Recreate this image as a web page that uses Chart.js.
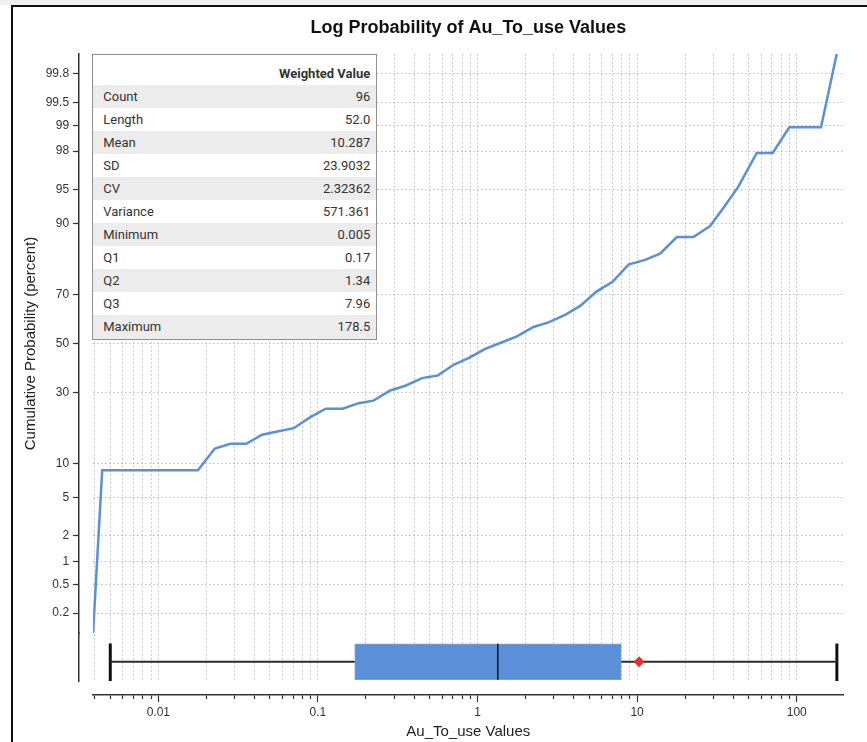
<!DOCTYPE html>
<html>
<head>
<meta charset="utf-8">
<title>Log Probability of Au_To_use Values</title>
<script src="https://cdn.jsdelivr.net/npm/chart.js@4/dist/chart.umd.min.js"></script>
<style>
  html, body { margin: 0; padding: 0; background: #fff; }
  #wrap { position: relative; width: 867px; height: 742px; overflow: hidden; background: #fff; }
  #bandTop { position: absolute; left: 0; top: 0; width: 867px; height: 5px; background: #f0f0f0; }
  #frameTop { position: absolute; left: 11px; top: 5px; width: 856px; height: 2px; background: #111; }
  #frameLeft { position: absolute; left: 11px; top: 5px; width: 2px; height: 737px; background: #111; }
  canvas { position: absolute; left: 0; top: 0; }
  #stats {
    position: absolute; width: 285px; box-sizing: border-box;
    border: 1.5px solid #8f8f8f; background: #fff;
    font: 13px Roboto, "Liberation Sans", sans-serif; color: #333;
  }
  #stats .row { display: flex; justify-content: space-between; height: 23.1px; line-height: 23.1px; padding: 0 6px 0 10px; }
  #stats .row.alt { background: #ececec; }
  #stats .head { justify-content: flex-end; font-weight: bold; height: 22px; line-height: 22px; padding-top: 8px; }
</style>
</head>
<body>
<div id="wrap">
  <div id="bandTop"></div>
  <div id="frameTop"></div>
  <div id="frameLeft"></div>
  <canvas id="chart" width="867" height="742"></canvas>
  <div id="stats"></div>
</div>
<script>
// ---- data ----------------------------------------------------------------
// cumulative curve: grade value (x) against cumulative probability in percent (y)
const curveX = [0.0039, 0.00445, 0.0177, 0.0226, 0.0283, 0.0355, 0.0447, 0.0557, 0.0705, 0.0896,
                0.112, 0.143, 0.180, 0.223, 0.284, 0.353, 0.449, 0.562, 0.708, 0.878,
                1.117, 1.387, 1.765, 2.242, 2.784, 3.541, 4.397, 5.593, 7.024, 8.822,
                11.22, 13.93, 17.73, 22.52, 28.65, 34.71, 43.09, 56.18, 70.74, 89.89,
                142.0, 178.1];
const curveP = [0.1, 8.8, 8.8, 13.1, 14.2, 14.2, 16.5, 17.4, 18.3, 21.6,
                24.3, 24.3, 26.2, 27.1, 30.8, 32.6, 35.6, 36.6, 41.0, 43.8,
                47.7, 50.2, 53.0, 57.0, 58.9, 62.0, 65.6, 71.1, 74.5, 80.0,
                81.4, 83.1, 87.2, 87.2, 89.5, 92.6, 95.3, 97.9, 97.9, 98.95,
                98.95, 99.9];

// summary statistics (table and box plot)
const statLabels = ['Count', 'Length', 'Mean', 'SD', 'CV', 'Variance', 'Minimum', 'Q1', 'Q2', 'Q3', 'Maximum'];
const statValues = ['96', '52.0', '10.287', '23.9032', '2.32362', '571.361', '0.005', '0.17', '1.34', '7.96', '178.5'];
const statHeader = 'Weighted Value';
const boxMin = 0.005, boxQ1 = 0.17, boxMedian = 1.34, boxQ3 = 7.96, boxMax = 178.5, boxMean = 10.287;

// axis ticks
const probTicks = [0.2, 0.5, 1, 2, 5, 10, 30, 50, 70, 90, 95, 98, 99, 99.5, 99.8];
const xLabelTicks = [0.01, 0.1, 1, 10, 100];
const xRange = [0.0039, 196.4];
const probRange = [0.1, 99.9];

// ---- layout / style constants ------------------------------------------
const LINE_BLUE = '#5b8fd7';
const GRID = '#bdbdbd';
const AXIS = '#333333';
const FONT = '"Liberation Sans", Arial, sans-serif';
// vertical placement of the box plot inside its 0..1 band
const BOX = { mid: 0.4, capLo: 0.0, capHi: 0.78, lo: 0.025, hi: 0.775 };

// ---- normal distribution helpers ---------------------------------------
function normInv(p) {
  const a = [-3.969683028665376e+01, 2.209460984245205e+02, -2.759285104469687e+02, 1.383577518672690e+02, -3.066479806614716e+01, 2.506628277459239e+00];
  const b = [-5.447609879822406e+01, 1.615858368580409e+02, -1.556989798598866e+02, 6.680131188771972e+01, -1.328068155288572e+01];
  const c = [-7.784894002430293e-03, -3.223964580411365e-01, -2.400758277161838e+00, -2.549671206907485e+00, 4.374664141464968e+00, 2.938163982698783e+00];
  const d = [7.784695709041462e-03, 3.224671290700398e-01, 2.445134137142996e+00, 3.754408661907416e+00];
  const pl = 0.02425, ph = 1 - pl;
  let q, r;
  if (p < pl) {
    q = Math.sqrt(-2 * Math.log(p));
    return (((((c[0]*q+c[1])*q+c[2])*q+c[3])*q+c[4])*q+c[5]) / ((((d[0]*q+d[1])*q+d[2])*q+d[3])*q+1);
  }
  if (p > ph) {
    q = Math.sqrt(-2 * Math.log(1 - p));
    return -(((((c[0]*q+c[1])*q+c[2])*q+c[3])*q+c[4])*q+c[5]) / ((((d[0]*q+d[1])*q+d[2])*q+d[3])*q+1);
  }
  q = p - 0.5; r = q * q;
  return (((((a[0]*r+a[1])*r+a[2])*r+a[3])*r+a[4])*r+a[5])*q / (((((b[0]*r+b[1])*r+b[2])*r+b[3])*r+b[4])*r+1);
}
function normCdf(z) {
  const t = 1 / (1 + 0.3275911 * Math.abs(z) / Math.SQRT2);
  const y = 1 - (((((1.061405429*t - 1.453152027)*t) + 1.421413741)*t - 0.284496736)*t + 0.254829592)*t * Math.exp(-z*z/2);
  return z >= 0 ? (1 + y) / 2 : (1 - y) / 2;
}

// ---- probability (normal quantile) axis ---------------------------------
class ProbabilityScale extends Chart.Scale {
  static id = 'probability';
  static defaults = {};
  parse(raw) { return raw == null ? null : +raw; }
  determineDataLimits() {
    this.min = this.options.min ?? probRange[0];
    this.max = this.options.max ?? probRange[1];
  }
  buildTicks() {
    return probTicks.filter(v => v >= this.min && v <= this.max).map(v => ({ value: v }));
  }
  getLabelForValue(v) { return String(v); }
  configure() {
    super.configure();
    this._zMin = normInv(this.min / 100);
    this._zMax = normInv(this.max / 100);
  }
  getPixelForValue(v) {
    if (v == null || isNaN(v)) return NaN;
    const z = normInv(v / 100);
    return this.getPixelForDecimal((z - this._zMin) / (this._zMax - this._zMin));
  }
  getValueForPixel(px) {
    const z = this._zMin + this.getDecimalForPixel(px) * (this._zMax - this._zMin);
    return normCdf(z) * 100;
  }
  getPixelForTick(i) {
    const t = this.ticks;
    return (i < 0 || i >= t.length) ? null : this.getPixelForValue(t[i].value);
  }
}
Chart.register(ProbabilityScale);

// log-axis tick positions: 1..9 in every decade inside the range, up to 100
const xGridTicks = [];
for (let d = -3; d <= 2; d++) {
  for (let m = 1; m <= 9; m++) {
    const v = +(m * Math.pow(10, d)).toPrecision(6);
    if (v >= xRange[0] && v <= 100) xGridTicks.push(v);
  }
}
const isDecade = v => xLabelTicks.some(t => Math.abs(t - v) / t < 1e-6);
const setLogTicks = scale => { scale.ticks = xGridTicks.map(v => ({ value: v })); };

// ---- chart ----------------------------------------------------------------
const chart = new Chart(document.getElementById('chart'), {
  type: 'line',
  data: {
    datasets: [
      {
        label: 'Cumulative probability',
        data: curveX.map((x, i) => ({ x, y: curveP[i] })),
        xAxisID: 'x', yAxisID: 'y',
        borderColor: LINE_BLUE, borderWidth: 2.5, pointRadius: 0, tension: 0, order: 0
      },
      {
        label: 'Mean',
        data: [{ x: boxMean, y: BOX.mid }],
        xAxisID: 'x', yAxisID: 'yBox', showLine: false,
        pointStyle: 'rectRot', pointRadius: 5.5, pointBackgroundColor: '#e8302c', pointBorderWidth: 0, order: 1
      },
      {
        label: 'Median',
        data: [{ x: boxMedian, y: BOX.lo }, { x: boxMedian, y: BOX.hi }],
        xAxisID: 'x', yAxisID: 'yBox',
        borderColor: '#111', borderWidth: 1.5, pointRadius: 0, order: 2
      },
      {
        type: 'bar',
        label: 'Interquartile range',
        indexAxis: 'y',
        data: [{ x: [boxQ1, boxQ3], y: BOX.mid }],
        xAxisID: 'x', yAxisID: 'yBox',
        backgroundColor: LINE_BLUE, borderColor: '#7fa7e2', borderWidth: 1, borderSkipped: false,
        barThickness: 36, order: 3
      },
      {
        label: 'Whisker',
        data: [{ x: boxMin, y: BOX.mid }, { x: boxMax, y: BOX.mid }],
        xAxisID: 'x', yAxisID: 'yBox',
        borderColor: '#2a2a2a', borderWidth: 2, pointRadius: 0, order: 4
      },
      {
        label: 'Minimum cap',
        data: [{ x: boxMin, y: BOX.capLo }, { x: boxMin, y: BOX.capHi }],
        xAxisID: 'x', yAxisID: 'yBox',
        borderColor: '#111', borderWidth: 3, pointRadius: 0, order: 4
      },
      {
        label: 'Maximum cap',
        data: [{ x: boxMax, y: BOX.capLo }, { x: boxMax, y: BOX.capHi }],
        xAxisID: 'x', yAxisID: 'yBox',
        borderColor: '#111', borderWidth: 3, pointRadius: 0, order: 4
      }
    ]
  },
  options: {
    responsive: false,
    devicePixelRatio: 1,
    animation: false,
    events: [],
    layout: { padding: { top: 8, left: 18, right: 23.5, bottom: 0 } },
    plugins: {
      legend: { display: false },
      tooltip: { enabled: false },
      title: {
        display: true,
        fullSize: false,
        text: 'Log Probability of Au_To_use Values',
        color: '#111',
        font: { family: FONT, size: 18, weight: 'bold' },
        padding: { top: 9.7, bottom: 14.7 }
      }
    },
    scales: {
      // data axis for x: dotted grid, a blank gap below the plot
      x: {
        type: 'logarithmic', axis: 'x', position: 'bottom', weight: 0,
        min: xRange[0], max: xRange[1], beginAtZero: false, offset: false,
        afterBuildTicks: setLogTicks,
        ticks: { display: false, autoSkip: false },
        grid: { color: GRID, lineWidth: 1, drawTicks: true, tickLength: 14, tickColor: 'rgba(0,0,0,0)', offset: false },
        border: { display: false, dash: [1.5, 2.5] }
      },
      // visible x axis line, ticks, labels and title, set off below the plot
      xAxis: {
        type: 'logarithmic', axis: 'x', position: 'bottom', weight: 1,
        min: xRange[0], max: xRange[1], beginAtZero: false, offset: false,
        afterBuildTicks: setLogTicks,
        ticks: {
          autoSkip: false, maxRotation: 0, padding: 3, color: AXIS,
          font: { family: FONT, size: 12 },
          callback: v => isDecade(v) ? String(v) : ''
        },
        grid: {
          drawOnChartArea: false, drawTicks: true, tickLength: 7, tickColor: AXIS, tickWidth: 1.2,
          tickBorderDash: ctx => (ctx.tick && isDecade(ctx.tick.value)) ? [] : [3.5, 20]
        },
        border: { display: true, color: AXIS, width: 1.5 },
        title: {
          display: true, text: 'Au_To_use Values', color: '#222',
          font: { family: FONT, size: 15 }, padding: { top: 0, bottom: 1.6 }
        }
      },
      // visible probability axis
      yAxis: {
        type: 'probability', axis: 'y', position: 'left', stack: 'outer', stackWeight: 579, weight: 4,
        min: probRange[0], max: probRange[1],
        ticks: { autoSkip: false, padding: 4, color: AXIS, font: { family: FONT, size: 12 } },
        grid: { drawOnChartArea: false, drawTicks: true, tickLength: 6, tickColor: AXIS, tickWidth: 1.2 },
        border: { display: true, color: AXIS, width: 1.5 },
        title: {
          display: true, text: 'Cumulative Probability (percent)', color: '#222',
          font: { family: FONT, size: 15 }, padding: { top: 4, bottom: 1.7 }
        }
      },
      // axis line continued past the box plot band
      yBoxAxis: {
        type: 'linear', axis: 'y', position: 'left', stack: 'outer', stackWeight: 48, weight: 3,
        min: 0, max: 1, offset: false,
        ticks: { display: false }, grid: { display: false, offset: false },
        border: { display: true, color: AXIS, width: 1.5 }
      },
      // data axis for probabilities: dotted grid
      y: {
        type: 'probability', axis: 'y', position: 'left', stack: 'inner', stackWeight: 579, weight: 2,
        min: probRange[0], max: probRange[1],
        ticks: { display: false, autoSkip: false },
        grid: { color: GRID, lineWidth: 1, drawTicks: true, tickLength: 14, tickColor: 'rgba(0,0,0,0)' },
        border: { display: false, dash: [1.5, 2.5] }
      },
      // band holding the box plot
      yBox: {
        type: 'linear', axis: 'y', position: 'left', stack: 'inner', stackWeight: 48, weight: 1,
        min: 0, max: 1, offset: false,
        ticks: { display: false }, grid: { display: false, offset: false }, border: { display: false }
      }
    }
  }
});

// ---- statistics table, pinned to the plot's top-left corner ----------
const stats = document.getElementById('stats');
const head = document.createElement('div');
head.className = 'row head';
head.textContent = statHeader;
stats.appendChild(head);
statLabels.forEach((lab, i) => {
  const row = document.createElement('div');
  row.className = 'row' + (i % 2 === 0 ? ' alt' : '');
  const a = document.createElement('span'); a.textContent = lab;
  const b = document.createElement('span'); b.textContent = statValues[i];
  row.appendChild(a); row.appendChild(b);
  stats.appendChild(row);
});
const area = chart.chartArea;
stats.style.left = (area.left - 0.8) + 'px';
stats.style.top = (area.top - 0.5) + 'px';
</script>
</body>
</html>
